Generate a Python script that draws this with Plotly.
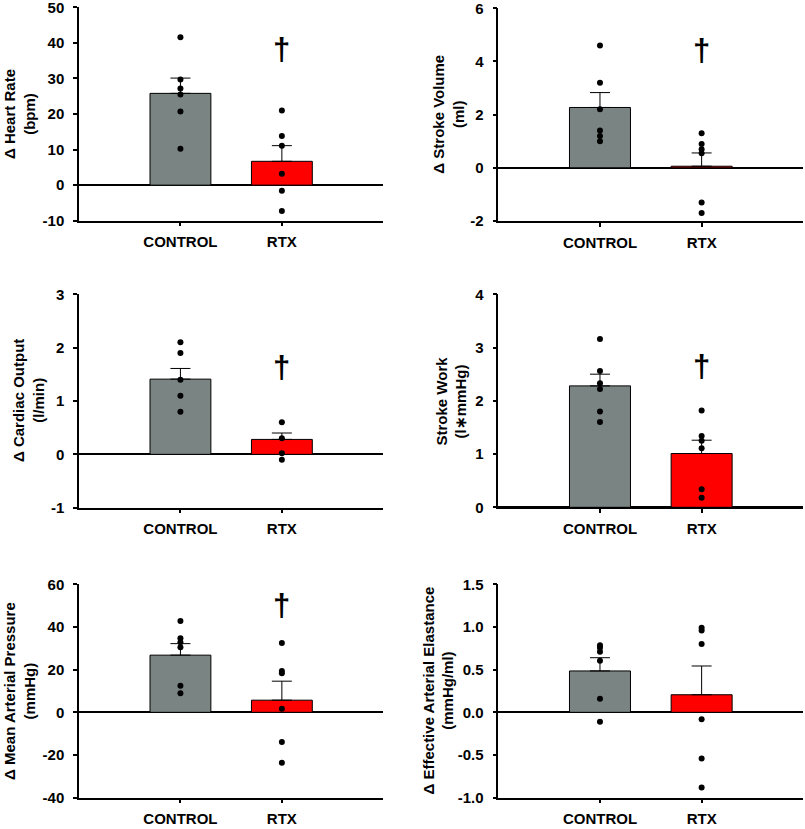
import plotly.graph_objects as go

groups = ["CONTROL", "RTX"]
bar_colors = ["#7a8583", "#ff0000"]

hr_ctrl = [41.6, 29.7, 27.2, 25.5, 20.7, 10.2]
hr_rtx = [21.0, 13.8, 11.1, 3.2, -1.6, -7.3]
hr_mean = [25.8, 6.7]
hr_se = [4.3, 4.4]

sv_ctrl = [4.6, 3.2, 2.2, 1.4, 1.2, 1.0]
sv_rtx = [1.3, 0.9, 0.7, 0.55, -1.3, -1.7]
sv_mean = [2.27, 0.06]
sv_se = [0.56, 0.5]

co_ctrl = [2.1, 1.9, 1.4, 1.1, 0.8]
co_rtx = [0.6, 0.3, 0.02, -0.1]
co_mean = [1.41, 0.28]
co_se = [0.2, 0.12]

sw_ctrl = [3.16, 2.56, 2.33, 2.22, 1.8, 1.6]
sw_rtx = [1.82, 1.34, 1.25, 1.11, 0.34, 0.18]
sw_mean = [2.28, 1.01]
sw_se = [0.22, 0.25]

map_ctrl = [42.8, 34.7, 32.8, 30.5, 12.5, 9.0]
map_rtx = [32.5, 19.4, 18.3, 1.7, -13.9, -23.6]
map_mean = [26.8, 5.7]
map_se = [5.4, 8.9]

eae_ctrl = [0.785, 0.757, 0.71, 0.605, 0.16, -0.11]
eae_rtx = [0.99, 0.96, 0.80, -0.08, -0.54, -0.88]
eae_mean = [0.485, 0.206]
eae_se = [0.155, 0.337]

hr_ticks = [-10, 0, 10, 20, 30, 40, 50]
hr_ticktext = ["-10", "0", "10", "20", "30", "40", "50"]
sv_ticks = [-2, 0, 2, 4, 6]
sv_ticktext = ["-2", "0", "2", "4", "6"]
co_ticks = [-1, 0, 1, 2, 3]
co_ticktext = ["-1", "0", "1", "2", "3"]
sw_ticks = [0, 1, 2, 3, 4]
sw_ticktext = ["0", "1", "2", "3", "4"]
map_ticks = [-40, -20, 0, 20, 40, 60]
map_ticktext = ["-40", "-20", "0", "20", "40", "60"]
eae_ticks = [-1.0, -0.5, 0.0, 0.5, 1.0, 1.5]
eae_ticktext = ["-1.0", "-0.5", "0.0", "0.5", "1.0", "1.5"]

panels = [
    dict(ctrl=hr_ctrl, rtx=hr_rtx, mean=hr_mean, se=hr_se, ticks=hr_ticks, tt=hr_ticktext,
         rng=[-10, 50], title="Δ Heart Rate<br>(bpm)", dagger=38.2),
    dict(ctrl=sv_ctrl, rtx=sv_rtx, mean=sv_mean, se=sv_se, ticks=sv_ticks, tt=sv_ticktext,
         rng=[-2, 6], title="Δ Stroke Volume<br>(ml)", dagger=4.4),
    dict(ctrl=co_ctrl, rtx=co_rtx, mean=co_mean, se=co_se, ticks=co_ticks, tt=co_ticktext,
         rng=[-1, 3], title="Δ Cardiac Output<br>(l/min)", dagger=1.62),
    dict(ctrl=sw_ctrl, rtx=sw_rtx, mean=sw_mean, se=sw_se, ticks=sw_ticks, tt=sw_ticktext,
         rng=[0, 4], title="Stroke Work<br>(l∗mmHg)", dagger=2.64),
    dict(ctrl=map_ctrl, rtx=map_rtx, mean=map_mean, se=map_se, ticks=map_ticks, tt=map_ticktext,
         rng=[-40, 60], title="Δ Mean Arterial Pressure<br>(mmHg)", dagger=50),
    dict(ctrl=eae_ctrl, rtx=eae_rtx, mean=eae_mean, se=eae_se, ticks=eae_ticks, tt=eae_ticktext,
         rng=[-1.0, 1.5], title="Δ Effective Arterial Elastance<br>(mmHg/ml)", dagger=None),
]

W, H = 805, 829
# pixel layout: (x_left, x_right, y_top, y_bottom, title_center_x)
boxes = [
    (79, 383.3, 7.3, 220.7, 19),
    (498.3, 803.3, 8.3, 221, 449),
    (79, 383.3, 294.3, 507.7, 28),
    (498.3, 803.3, 294.3, 507.3, 451.7),
    (79, 383.3, 584.3, 797.7, 19),
    (498.3, 803.3, 584.3, 797.7, 437.5),
]

FONT = "Arial, Liberation Sans, sans-serif"
fig = go.Figure()
annotations = []
layout = dict(width=W, height=H, margin=dict(l=0, r=0, t=0, b=0, autoexpand=False),
              plot_bgcolor="white", paper_bgcolor="white", showlegend=False,
              font=dict(family=FONT, size=15, color="black"))

for i, (p, b) in enumerate(zip(panels, boxes)):
    n = "" if i == 0 else str(i + 1)
    xa, ya = "x" + n, "y" + n
    fig.add_trace(go.Bar(
        x=[0, 1], y=p["mean"], width=0.6, xaxis=xa, yaxis=ya,
        marker=dict(color=bar_colors, line=dict(color="black", width=1)),
        error_y=dict(type="data", symmetric=False, array=p["se"], arrayminus=[0, 0],
                     color="black", thickness=1, width=10),
    ))
    fig.add_trace(go.Scatter(
        x=[0] * len(p["ctrl"]) + [1] * len(p["rtx"]), y=p["ctrl"] + p["rtx"],
        mode="markers", marker=dict(color="black", size=6), xaxis=xa, yaxis=ya,
    ))
    x0, x1, yt, yb, tcx = b
    layout["xaxis" + n] = dict(
        domain=[x0 / W, x1 / W], range=[-1, 2], anchor=ya, automargin=False,
        tickvals=[0, 1], ticktext=groups, ticks="outside", ticklen=4, tickwidth=1.5,
        tickcolor="black", showline=True, linecolor="black", linewidth=1.5,
        showgrid=False, zeroline=False, ticklabelstandoff=3, ticklabeloverflow="allow",
        tickfont=dict(family=FONT, size=15, weight="bold", color="black"),
    )
    layout["yaxis" + n] = dict(
        domain=[1 - yb / H, 1 - yt / H], range=p["rng"], anchor=xa, automargin=False,
        tickvals=p["ticks"], ticktext=p["tt"], ticks="outside", ticklen=4, tickwidth=1.5,
        tickcolor="black", showline=True, linecolor="black", linewidth=1.5,
        showgrid=False, zeroline=True, zerolinecolor="black", zerolinewidth=1.5,
        ticklabelstandoff=6, ticklabeloverflow="allow",
        tickfont=dict(family=FONT, size=15, weight="bold", color="black"),
    )
    annotations.append(dict(
        text=p["title"], textangle=-90, xref="paper", yref="paper",
        x=tcx / W, y=1 - ((yt + yb) / 2) / H, xanchor="center", yanchor="middle",
        showarrow=False, font=dict(family=FONT, size=15, weight="bold", color="black"),
    ))
    if p["dagger"] is not None:
        annotations.append(dict(
            text="†", xref=xa, yref=ya, x=1, y=p["dagger"], xanchor="center",
            yanchor="middle", showarrow=False,
            font=dict(family=FONT, size=31, weight="bold", color="black"),
        ))

layout["annotations"] = annotations
fig.update_layout(**layout)
fig.write_html("out.html", config={"displayModeBar": False},
               post_script="document.body.style.margin='0px';")
